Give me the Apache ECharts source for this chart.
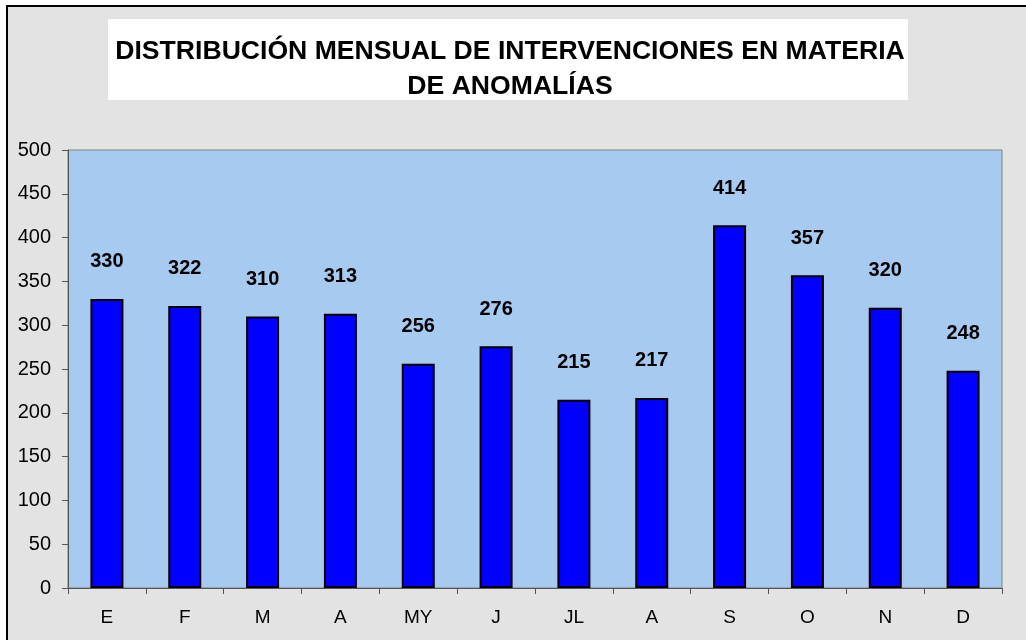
<!DOCTYPE html>
<html>
<head>
<meta charset="utf-8">
<script src="https://cdn.jsdelivr.net/npm/echarts@6/dist/echarts.min.js"></script>
<style>
  html, body { margin: 0; padding: 0; background: #fff; }
  #chart { width: 1026px; height: 640px; }
</style>
</head>
<body>
<div id="chart"></div>
<script>
const titleText = 'DISTRIBUCIÓN MENSUAL DE INTERVENCIONES EN MATERIA\nDE ANOMALÍAS';
const months = ['E', 'F', 'M', 'A', 'MY', 'J', 'JL', 'A', 'S', 'O', 'N', 'D'];
const interventions = [330, 322, 310, 313, 256, 276, 215, 217, 414, 357, 320, 248];
const yTicks = { min: 0, max: 500, interval: 50 };

const chart = echarts.init(document.getElementById('chart'), null, { renderer: 'canvas' });

// frame + white title box drawn behind the chart
const graphic = [
  {
    type: 'rect',
    z: -10,
    shape: { x: 7, y: 6, width: 1040, height: 660 },
    style: { fill: '#e3e3e3', stroke: '#000', lineWidth: 2 }
  },
  {
    type: 'rect',
    z: -9,
    shape: { x: 108, y: 19, width: 800, height: 81 },
    style: { fill: '#ffffff' }
  }
];

chart.setOption({
  backgroundColor: '#ffffff',
  animation: false,
  graphic: graphic,
  title: {
    text: titleText,
    left: 505,
    top: 29,
    textAlign: 'center',
    textStyle: {
      fontFamily: 'Liberation Sans, Arial, sans-serif',
      fontWeight: 'bold',
      fontSize: 26.6,
      lineHeight: 35,
      color: '#000'
    }
  },
  grid: {
    left: 68,
    top: 150,
    right: 24,
    bottom: 52,
    show: true,
    backgroundColor: '#a6caf0',
    borderColor: '#808080',
    borderWidth: 1
  },
  xAxis: {
    type: 'category',
    data: months,
    axisLine: { lineStyle: { color: '#555', width: 1 } },
    axisTick: { show: true, length: 6, alignWithLabel: false, lineStyle: { color: '#555' } },
    axisLabel: {
      margin: 20,
      fontFamily: 'Liberation Sans, Arial, sans-serif',
      fontSize: 19,
      color: '#000'
    }
  },
  yAxis: {
    type: 'value',
    min: yTicks.min,
    max: yTicks.max,
    interval: yTicks.interval,
    splitLine: { show: false },
    axisLine: { show: true, lineStyle: { color: '#555', width: 1 } },
    axisTick: { show: true, length: 6, lineStyle: { color: '#555' } },
    axisLabel: {
      margin: 17,
      fontFamily: 'Liberation Sans, Arial, sans-serif',
      fontSize: 20,
      color: '#000'
    }
  },
  series: [{
    type: 'bar',
    data: interventions,
    barWidth: 33,
    itemStyle: { color: '#0000ff', borderColor: '#000', borderWidth: 2 },
    label: {
      show: true,
      position: 'top',
      distance: 27,
      fontFamily: 'Liberation Sans, Arial, sans-serif',
      fontWeight: 'bold',
      fontSize: 20,
      color: '#000'
    }
  }]
});
</script>
</body>
</html>
